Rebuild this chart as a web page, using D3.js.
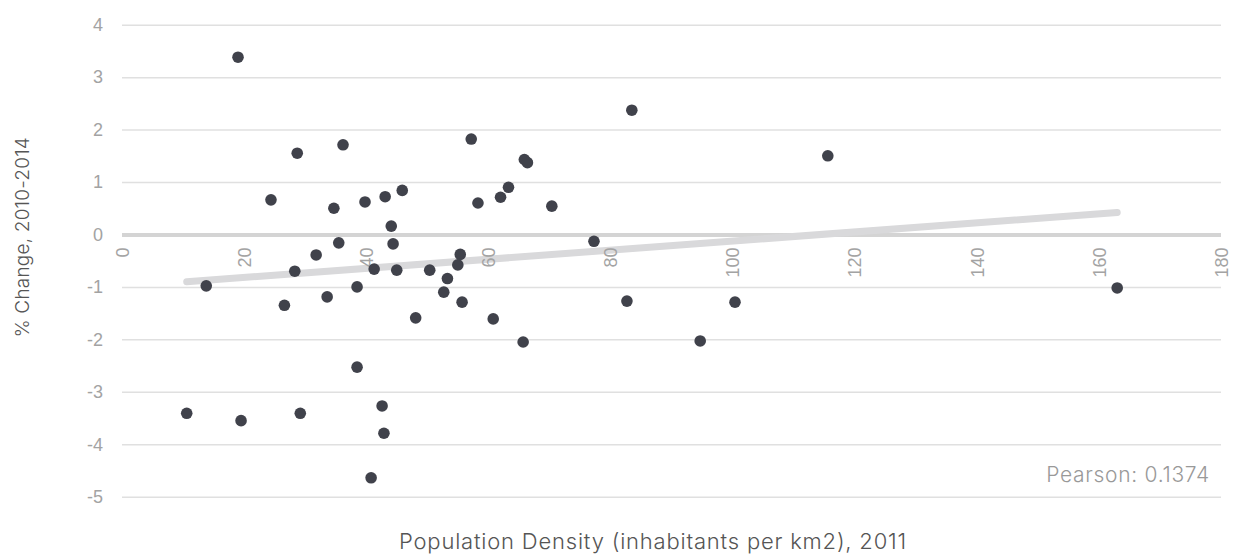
<!DOCTYPE html>
<html>
<head>
<meta charset="utf-8">
<script src="https://cdn.jsdelivr.net/npm/d3@7"></script>
<style>
  html, body { margin: 0; padding: 0; background: #fff; }
  svg { display: block; font-family: Inter, Lato, "Open Sans", sans-serif; }
</style>
</head>
<body>
<svg id="chart" width="1241" height="556"></svg>
<script>
// ---- Data ----
const density = [19.0, 10.6, 13.8, 19.5, 24.4, 28.7, 28.3, 26.6, 29.2, 31.8,
                 33.6, 34.7, 35.5, 36.2, 38.5, 38.5, 39.8, 41.3, 40.8, 42.6,
                 42.9, 43.1, 44.1, 44.4, 45.9, 45.0, 48.1, 50.4, 52.7, 53.3,
                 55.0, 55.4, 55.7, 57.2, 58.3, 62.0, 63.3, 65.9, 66.4, 70.4,
                 60.8, 65.7, 77.3, 82.7, 83.5, 94.7, 100.4, 115.6, 163.0];
const change  = [3.38, -3.41, -0.98, -3.55, 0.66, 1.55, -0.70, -1.35, -3.41, -0.39,
                 -1.19, 0.50, -0.16, 1.71, -1.00, -2.53, 0.62, -0.66, -4.64, -3.27,
                 -3.79, 0.72, 0.16, -0.18, 0.84, -0.68, -1.59, -0.68, -1.10, -0.84,
                 -0.58, -0.38, -1.29, 1.82, 0.60, 0.71, 0.90, 1.43, 1.37, 0.54,
                 -1.61, -2.05, -0.13, -1.27, 2.37, -2.03, -1.29, 1.50, -1.02];
const trendX = [10.6, 163.0];
const trendY = [-0.90, 0.42];
const xTicks = [0, 20, 40, 60, 80, 100, 120, 140, 160, 180];
const yTicks = [4, 3, 2, 1, 0, -1, -2, -3, -4, -5];
const xTitle = "Population Density (inhabitants per km2), 2011";
const yTitle = "% Change, 2010-2014";
const pearsonLabel = "Pearson: 0.1374";

// ---- Layout ----
const svg = d3.select("#chart");
const mLeft = 122, mRight = 1221, mTop = 24.7, mBottom = 496.7;
const x = d3.scaleLinear().domain([0, 180]).range([mLeft, mRight]);
const y = d3.scaleLinear().domain([-5, 4]).range([mBottom, mTop]);
const fmt = d => String(d);

// Grid lines via y axis
const yAxis = svg.append("g")
  .attr("transform", `translate(${mLeft},0)`)
  .call(d3.axisLeft(y).tickValues(yTicks).tickSize(-(mRight - mLeft)).tickPadding(19).tickFormat(fmt));
yAxis.select(".domain").remove();
yAxis.selectAll(".tick line")
  .attr("stroke", d => d === 0 ? "#d4d4d4" : "#e0e0e0")
  .attr("stroke-width", d => d === 0 ? 4 : 1.5);
yAxis.selectAll(".tick text")
  .attr("fill", "#a3a3a3")
  .style("font-size", "18px")
  .style("font-weight", 300);

// Trend line
svg.append("line")
  .attr("x1", x(trendX[0])).attr("y1", y(trendY[0]))
  .attr("x2", x(trendX[1])).attr("y2", y(trendY[1]))
  .attr("stroke", "#d9d9db").attr("stroke-width", 7).attr("stroke-linecap", "round");

// X axis at zero with rotated labels
const xAxis = svg.append("g")
  .attr("transform", `translate(0,${y(0)})`)
  .call(d3.axisBottom(x).tickValues(xTicks).tickSize(0).tickFormat(fmt));
xAxis.select(".domain").remove();
xAxis.selectAll(".tick text")
  .attr("fill", "#a3a3a3")
  .style("font-size", "18px")
  .style("font-weight", 300)
  .attr("transform", "rotate(-90)")
  .attr("text-anchor", "end")
  .attr("x", -13)
  .attr("y", 0)
  .attr("dy", "0.35em");

// Points
const pts = density.map((d, i) => ({x: d, y: change[i]}));
svg.append("g").selectAll("circle").data(pts).join("circle")
  .attr("cx", d => x(d.x)).attr("cy", d => y(d.y))
  .attr("r", 5.8).attr("fill", "#40424b");

// Titles
svg.append("text")
  .attr("x", 653).attr("y", 549)
  .attr("text-anchor", "middle")
  .attr("fill", "#555")
  .style("font-size", "22px")
  .style("letter-spacing", "0.8px")
  .style("font-weight", 300)
  .text(xTitle);

svg.append("text")
  .attr("transform", `translate(29,${y(-0.05)}) rotate(-90)`)
  .attr("text-anchor", "middle")
  .attr("fill", "#555")
  .style("font-size", "19px")
  .style("letter-spacing", "0.2px")
  .style("font-weight", 300)
  .text(yTitle);

svg.append("text")
  .attr("x", 1210).attr("y", 482)
  .attr("text-anchor", "end")
  .attr("fill", "#999")
  .style("font-size", "21px")
  .style("letter-spacing", "0.7px")
  .style("font-weight", 300)
  .text(pearsonLabel);
</script>
</body>
</html>
